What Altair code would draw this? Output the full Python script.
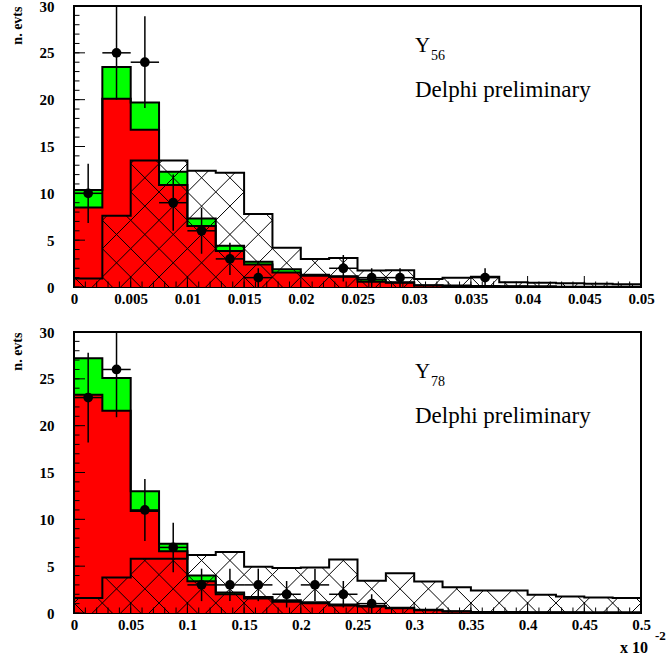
import math
import altair as alt
import pandas as pd

N_BINS = 20
Y_MAX = 30
PLOT_W, PLOT_H = 567, 281

RED = "#ff0000"
GREEN = "#00ff00"
SERIF = "Liberation Serif"
HATCH_STEP = PLOT_W / N_BINS  # horizontal gap (px) between parallel hatch lines
HATCH_SHIFT = 10.0            # vertical phase of the hatch lattice (px)

# ---- Y56 distribution -------------------------------------------------
y56_xmax = 0.05
y56_data = [10, 25, 24, 9, 6, 3, 1, 0, 0, 2, 1, 1, 0, 0, 1, 0, 0, 0, 0, 0]
y56_total = [10.35, 23.5, 19.7, 12.3, 7.3, 4.4, 2.7, 1.9, 1.3, 1.15,
             0.8, 0.5, 0.2, 0.15, 0.12, 0.07, 0.06, 0.03, 0.02, 0.02]
y56_red = [8.5, 20.1, 16.8, 10.9, 6.5, 3.85, 2.4, 1.55, 1.2, 1.1,
           0.55, 0.45, 0.15, 0.1, 0.1, 0.05, 0.05, 0.0, 0.0, 0.0]
y56_hatch = [0.9, 7.6, 13.5, 13.5, 12.4, 12.2, 7.8, 4.2, 3.0, 3.1,
             1.75, 1.8, 0.85, 1.0, 1.1, 0.5, 0.45, 0.4, 0.35, 0.3]
y56_xlabels = [0, 0.005, 0.01, 0.015, 0.02, 0.025, 0.03, 0.035, 0.04, 0.045, 0.05]

# ---- Y78 distribution -------------------------------------------------
y78_xmax = 0.5
y78_data = [23, 26, 11, 7, 3, 3, 3, 2, 3, 2, 1, 0, 0, 0, 0, 0, 0, 0, 0, 0]
y78_total = [27.2, 25.1, 13.0, 7.4, 4.0, 2.2, 1.72, 1.35, 1.15, 0.9,
             0.75, 0.55, 0.35, 0.2, 0.12, 0.12, 0.07, 0.07, 0.06, 0.06]
y78_red = [23.3, 21.6, 10.9, 6.6, 3.4, 2.0, 1.55, 1.2, 1.05, 0.8,
           0.7, 0.5, 0.3, 0.15, 0.1, 0.1, 0.05, 0.05, 0.05, 0.05]
y78_hatch = [1.6, 3.8, 5.8, 5.8, 6.2, 6.5, 4.95, 4.8, 4.85, 5.7,
             3.45, 4.25, 3.35, 2.75, 2.4, 2.4, 1.95, 1.75, 1.65, 1.6]
y78_xlabels = [0, 0.05, 0.1, 0.15, 0.2, 0.25, 0.3, 0.35, 0.4, 0.45, 0.5]

y_labels = [0, 5, 10, 15, 20, 25, 30]
y_minor = list(range(0, Y_MAX + 1))


def bin_edges(xmax):
    return [xmax * i / N_BINS for i in range(N_BINS + 1)]


def steps(xmax, heights):
    """Left bin edges plus the closing edge, for step-after areas."""
    e = bin_edges(xmax)
    return pd.DataFrame({"x": e, "h": list(heights) + [heights[-1]], "z": 0.0})


def outline(xmax, heights):
    e = bin_edges(xmax)
    pts = [(e[0], 0.0)]
    for i, h in enumerate(heights):
        pts += [(e[i], h), (e[i + 1], h)]
    pts.append((e[-1], 0.0))
    return pd.DataFrame({"x": [p[0] for p in pts],
                         "y": [p[1] for p in pts],
                         "k": list(range(len(pts)))})


def hatch_segments(xmax, heights):
    """Cross-hatch (+45 / -45 deg on screen) clipped to each bin column."""
    sx = PLOT_W / xmax
    sy = PLOT_H / Y_MAX
    e = bin_edges(xmax)
    rows = []
    n_lines = int((PLOT_W + PLOT_H) / HATCH_STEP) + 2
    for i, h in enumerate(heights):
        a, b, top = e[i] * sx, e[i + 1] * sx, h * sy
        if top <= 0:
            continue
        for k in range(-n_lines, n_lines + 1):
            # rising line: y = x - c
            c = k * HATCH_STEP - HATCH_SHIFT
            x1, x2 = max(a, c), min(b, c + top)
            if x2 > x1:
                rows.append((x1, x1 - c, x2, x2 - c))
            # falling line: y = c - x
            c = k * HATCH_STEP + HATCH_SHIFT
            x1, x2 = max(a, c - top), min(b, c)
            if x2 > x1:
                rows.append((x1, c - x1, x2, c - x2))
    df = pd.DataFrame(rows, columns=["x", "y", "x2", "y2"])
    df["x"] /= sx
    df["x2"] /= sx
    df["y"] /= sy
    df["y2"] /= sy
    return df


def points(xmax, counts):
    e = bin_edges(xmax)
    rows = []
    for i, n in enumerate(counts):
        if n > 0:
            err = math.sqrt(n)
            rows.append({"lo": e[i], "hi": e[i + 1], "c": (e[i] + e[i + 1]) / 2,
                         "n": n, "dn": n - err, "up": min(n + err, Y_MAX)})
    return pd.DataFrame(rows)


def panel(xmax, counts, total, red, hatch, xlabels, sub, extra=None):
    xs = alt.Scale(domain=[0, xmax], nice=False, zero=False)
    ys = alt.Scale(domain=[0, Y_MAX], nice=False, zero=False)
    xax = alt.Axis(values=xlabels, format="~g", ticks=False, tickSize=0,
                   domain=False, grid=False, labelPadding=4, title=None,
                   labelFlush=False)
    yax = alt.Axis(values=y_labels, ticks=False, tickSize=0, domain=False,
                   grid=False, labelPadding=20, title="n. evts",
                   titleAngle=-90, titleX=-50, titleY=0, titleAlign="right",
                   titleBaseline="bottom")

    def X(f):
        return alt.X(f, type="quantitative", scale=xs, axis=xax)

    def Y(f):
        return alt.Y(f, type="quantitative", scale=ys, axis=yax)

    green_l = alt.Chart(steps(xmax, total)).mark_area(
        color=GREEN, interpolate="step-after", opacity=1).encode(
        x=X("x"), y=Y("h"), y2="z")
    red_l = alt.Chart(steps(xmax, red)).mark_area(
        color=RED, interpolate="step-after", opacity=1).encode(
        x=X("x"), y=Y("h"), y2="z")
    hatch_l = alt.Chart(hatch_segments(xmax, hatch)).mark_rule(
        color="black", strokeWidth=1).encode(x=X("x"), x2="x2", y=Y("y"), y2="y2")

    def step(heights):
        return alt.Chart(outline(xmax, heights)).mark_line(
            color="black", strokeWidth=2, strokeJoin="miter").encode(
            x=X("x"), y=Y("y"), order="k:Q")

    major = xlabels
    minor = [xmax * i / 50 for i in range(51)]
    xt_major = alt.Chart(pd.DataFrame({"v": major})).mark_rule(
        color="black", strokeWidth=1).encode(
        x=X("v"), y=alt.value(PLOT_H), y2=alt.value(PLOT_H - 11))
    xt_minor = alt.Chart(pd.DataFrame({"v": minor})).mark_rule(
        color="black", strokeWidth=1).encode(
        x=X("v"), y=alt.value(PLOT_H), y2=alt.value(PLOT_H - 5.5))
    yt_major = alt.Chart(pd.DataFrame({"v": y_labels})).mark_rule(
        color="black", strokeWidth=1).encode(
        y=Y("v"), x=alt.value(0), x2=alt.value(11))
    yt_minor = alt.Chart(pd.DataFrame({"v": y_minor})).mark_rule(
        color="black", strokeWidth=1).encode(
        y=Y("v"), x=alt.value(0), x2=alt.value(5.5))

    pts = points(xmax, counts)
    ev = alt.Chart(pts).mark_rule(color="black", strokeWidth=1.5).encode(
        x=X("c"), y=Y("dn"), y2="up")
    eh = alt.Chart(pts).mark_rule(color="black", strokeWidth=1.5).encode(
        x=X("lo"), x2="hi", y=Y("n"))
    dots = alt.Chart(pts).mark_point(filled=True, shape="circle", size=95,
                                     color="black", opacity=1).encode(
        x=X("c"), y=Y("n"))

    lab = pd.DataFrame({"t": ["Y"], "s": [sub], "d": ["Delphi preliminary"]})
    t_y = alt.Chart(lab).mark_text(font=SERIF, fontSize=21, align="left",
                                   baseline="alphabetic", color="black").encode(
        text="t", x=alt.value(341), y=alt.value(46))
    t_s = alt.Chart(lab).mark_text(font=SERIF, fontSize=14, align="left",
                                   baseline="alphabetic", color="black").encode(
        text="s", x=alt.value(357), y=alt.value(54))
    t_d = alt.Chart(lab).mark_text(font=SERIF, fontSize=23, align="left",
                                   baseline="alphabetic", color="black").encode(
        text="d", x=alt.value(341), y=alt.value(91))

    layers = [green_l, red_l, hatch_l, step(hatch), step(total), step(red),
              xt_minor, xt_major, yt_minor, yt_major, ev, eh, dots,
              t_y, t_s, t_d]
    if extra is not None:
        layers += extra
    return alt.layer(*layers).properties(width=PLOT_W, height=PLOT_H)


unit = pd.DataFrame({"a": ["x 10"], "b": ["-2"]})
unit_main = alt.Chart(unit).mark_text(font=SERIF, fontSize=16, fontWeight="bold",
                                      align="right", baseline="alphabetic",
                                      color="black").encode(
    text="a", x=alt.value(PLOT_W + 7), y=alt.value(PLOT_H + 40))
unit_exp = alt.Chart(unit).mark_text(font=SERIF, fontSize=13, fontWeight="bold",
                                     align="left", baseline="alphabetic",
                                     color="black").encode(
    text="b", x=alt.value(PLOT_W + 14), y=alt.value(PLOT_H + 27))

top = panel(y56_xmax, y56_data, y56_total, y56_red, y56_hatch, y56_xlabels, "56")
bottom = panel(y78_xmax, y78_data, y78_total, y78_red, y78_hatch, y78_xlabels, "78",
               extra=[unit_main, unit_exp])

chart = alt.vconcat(top, bottom, spacing=17).properties(
    padding={"left": 9, "top": -2, "right": 0, "bottom": 0}
).configure_view(stroke="black", strokeWidth=2).configure_axis(
    labelFont=SERIF, labelFontWeight="bold", labelFontSize=15, labelColor="black",
    titleFont=SERIF, titleFontWeight="bold", titleFontSize=14, titleColor="black"
)

chart.save("out.html", embed_options={"renderer": "svg", "actions": False})
